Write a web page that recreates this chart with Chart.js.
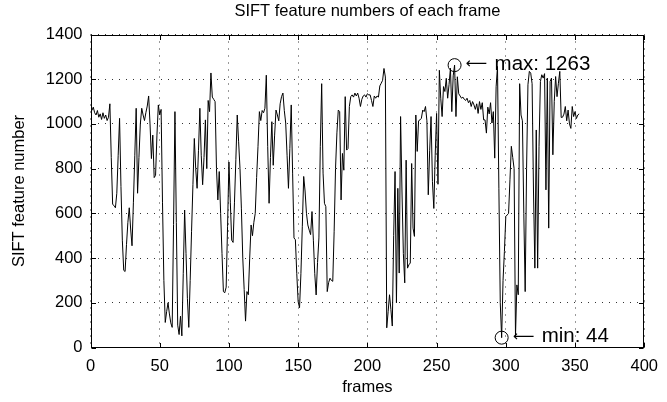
<!DOCTYPE html>
<html><head><meta charset="utf-8">
<script src="https://cdn.jsdelivr.net/npm/chart.js@4/dist/chart.umd.min.js"></script>
<style>html,body{margin:0;padding:0;background:#fff}canvas{display:block}</style>
</head><body>
<canvas id="c" width="667" height="402"></canvas>
<script>
// SIFT feature count per frame
const siftCounts = [
  1060, 1075, 1050, 1040, 1060, 1030, 1045, 1020, 1050, 1025,
  1040, 1015, 1030, 1090, 850, 640, 635, 625, 690, 860,
  1025, 720, 480, 345, 340, 460, 560, 625, 530, 455,
  650, 860, 1070, 690, 850, 1000, 1070, 1040, 1015, 1050,
  1080, 1125, 1000, 845, 950, 760, 770, 950, 1085, 1040,
  1065, 650, 300, 112, 160, 200, 150, 110, 90, 550,
  1055, 560, 100, 58, 140, 52, 330, 615, 420, 220,
  90, 300, 520, 730, 935, 800, 712, 880, 1070, 860,
  728, 850, 1018, 800, 1105, 1055, 1228, 1120, 1110, 1100,
  800, 660, 787, 600, 420, 250, 245, 270, 540, 830,
  650, 480, 470, 650, 840, 1040, 920, 800, 620, 400,
  260, 118, 250, 236, 400, 548, 500, 560, 600, 760,
  900, 1055, 1015, 1060, 1050, 1070, 1218, 900, 645, 850,
  1010, 815, 950, 1062, 1040, 1014, 1090, 1122, 1138, 1060,
  1004, 860, 712, 890, 1085, 780, 490, 482, 330, 205,
  178, 330, 540, 765, 700, 600, 548, 525, 505, 608,
  480, 330, 235, 380, 490, 900, 1180, 780, 645, 630,
  250, 290, 310, 300, 296, 520, 800, 960, 1062, 1055,
  660, 868, 793, 1122, 883, 890, 1078, 1122, 1130, 1120,
  1138, 1125, 1138, 1115, 1078, 1110, 1125, 1130, 1120, 1135, 1130,
  1130, 1105, 1078, 1125, 1115, 1125, 1120, 1170, 1182, 1195,
  1248, 1210, 88, 160, 236, 170, 96, 500, 787, 200,
  712, 333, 1033, 700, 420, 289, 838, 355, 370, 378,
  823, 534, 497, 1040, 877, 1014, 1018, 1025, 1062, 1055,
  1078, 1014, 683, 880, 1033, 743, 622, 860, 1047, 730,
  1240, 1115, 1033, 1167, 1145, 1204, 1115, 1176, 1249, 1055,
  1215, 1263, 1033, 1211, 1135, 1125, 1115, 1120, 1110, 1105,
  1115, 1095, 1105, 1078, 1100, 1085, 1065, 1090, 1047, 1100,
  1065, 1095, 1018, 1018, 959, 1075, 1045, 1095, 1004, 1055,
  847, 1166, 1257, 710, 200, 44, 300, 430, 586, 593,
  600, 750, 900, 850, 800, 50, 280, 236, 1180, 1040,
  1014, 600, 250, 800, 1175, 1235, 1227, 1180, 700, 355,
  973, 355, 900, 1190, 1220, 1205, 1225, 705, 1205, 534,
  1190, 1205, 862, 1100, 1212, 1122, 1182, 1235, 1029, 1030,
  1044, 1078, 1014, 1062, 1000, 980, 1078, 1033, 1055, 1024, 1040, 1045
];
const frameNumbers = siftCounts.map((_, i) => i + 1);

const xTicks = [0, 50, 100, 150, 200, 250, 300, 350, 400];
const yTicks = [0, 200, 400, 600, 800, 1000, 1200, 1400];
const chartTitle = 'SIFT feature numbers of each frame';
const xTitle = 'frames';
const yTitle = 'SIFT feature number';

const FONT = "'Liberation Sans', Arial, Helvetica, sans-serif";

const maxVal = Math.max(...siftCounts);
const minVal = Math.min(...siftCounts);
const maxFrame = frameNumbers[siftCounts.indexOf(maxVal)];
const minFrame = frameNumbers[siftCounts.indexOf(minVal)];
const marks = [
  { frame: maxFrame, value: maxVal, text: 'max: ' + maxVal },
  { frame: minFrame, value: minVal, text: 'min: ' + minVal }
];

const decorations = {
  id: 'decorations',
  afterDraw(chart) {
    const { ctx, chartArea: a, scales: { x, y } } = chart;
    ctx.save();
    ctx.strokeStyle = '#000';
    ctx.lineWidth = 1;
    ctx.setLineDash([]);
    const L = Math.round(a.left) + 0.5, R = Math.round(a.right) - 0.5;
    const T = Math.round(a.top) + 0.5, B = Math.round(a.bottom) - 0.5;
    ctx.strokeRect(L, T, R - L, B - T);
    const tl = 4.5;
    ctx.beginPath();
    x.ticks.forEach(t => {
      const px = Math.round(x.getPixelForValue(t.value)) + 0.5;
      ctx.moveTo(px, B); ctx.lineTo(px, B - tl);
      ctx.moveTo(px, T); ctx.lineTo(px, T + tl);
    });
    y.ticks.forEach(t => {
      const py = Math.round(y.getPixelForValue(t.value)) + 0.5;
      ctx.moveTo(L, py); ctx.lineTo(L + tl, py);
      ctx.moveTo(R, py); ctx.lineTo(R - tl, py);
    });
    ctx.stroke();
    // annotations: circle, arrow, label
    ctx.fillStyle = '#000';
    ctx.textAlign = 'left';
    ctx.textBaseline = 'middle';
    marks.forEach(m => {
      const px = x.getPixelForValue(m.frame);
      const py = y.getPixelForValue(m.value);
      ctx.beginPath();
      ctx.arc(px, py, 6.5, 0, Math.PI * 2);
      ctx.stroke();
      ctx.font = "15px 'DejaVu Sans', sans-serif";
      ctx.fillText('\u27F5', px + 11, py - 1);
      ctx.font = '20.5px ' + FONT;
      ctx.fillText(m.text, px + 40, py - 1);
    });
    ctx.restore();
  }
};

const tickFont = { family: FONT, size: 16.5 };

new Chart(document.getElementById('c'), {
  type: 'line',
  data: {
    labels: frameNumbers,
    datasets: [{
      data: siftCounts.map((v, i) => ({ x: frameNumbers[i], y: v })),
      borderColor: '#000',
      borderWidth: 1,
      pointRadius: 0,
      tension: 0,
      fill: false
    }]
  },
  options: {
    responsive: false,
    animation: false,
    devicePixelRatio: 1,
    layout: { padding: { left: 0, right: 16.5, top: 0, bottom: 0 } },
    plugins: {
      legend: { display: false },
      tooltip: { enabled: false },
      title: {
        display: true,
        fullSize: false,
        text: chartTitle,
        color: '#000',
        font: { family: FONT, size: 16.5, weight: 'normal', lineHeight: 1.2 },
        padding: { top: 2, bottom: 12.7 }
      }
    },
    scales: {
      x: {
        type: 'linear',
        min: xTicks[0],
        max: xTicks[xTicks.length - 1],
        afterBuildTicks: s => { s.ticks = xTicks.map(v => ({ value: v })); },
        afterFit: s => { s.height = 54.5; },
        ticks: { color: '#000', font: tickFont, padding: 9, maxRotation: 0, callback: v => String(v) },
        grid: { color: '#333', lineWidth: 1, drawTicks: false },
        border: { display: false, dash: [1, 6] },
        title: { display: true, text: xTitle, color: '#000', font: tickFont, padding: { top: 0, bottom: 5 } }
      },
      y: {
        type: 'linear',
        min: yTicks[0],
        max: yTicks[yTicks.length - 1],
        afterBuildTicks: s => { s.ticks = yTicks.map(v => ({ value: v })); },
        afterFit: s => { s.width = 90.5; },
        ticks: { color: '#000', font: tickFont, padding: 8, callback: v => String(v) },
        grid: { color: '#333', lineWidth: 1, drawTicks: false },
        border: { display: false, dash: [1, 6] },
        title: { display: true, text: yTitle, color: '#000', font: tickFont, padding: { top: 10, bottom: 0 } }
      }
    }
  },
  plugins: [decorations]
});
</script>
</body></html>
